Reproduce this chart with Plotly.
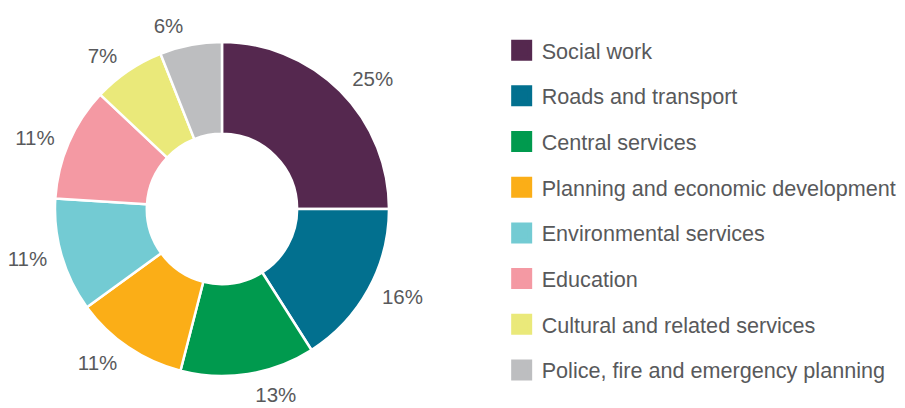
import plotly.graph_objects as go

categories = [
    "Social work",
    "Roads and transport",
    "Central services",
    "Planning and economic development",
    "Environmental services",
    "Education",
    "Cultural and related services",
    "Police, fire and emergency planning",
]
shares = [25, 16, 13, 11, 11, 11, 7, 6]
colors = ["#55284F", "#02708F", "#009A4E", "#FBAE17", "#73CBD3", "#F499A3", "#EAE97A", "#BDBEC0"]

FONT = "Liberation Sans, Arial, sans-serif"
TEXT = "#58595B"

fig = go.Figure()
# transparent, slightly larger copy that carries the percentage labels further out
fig.add_trace(go.Pie(
    labels=categories,
    values=shares,
    sort=False,
    direction="clockwise",
    rotation=0,
    marker=dict(colors=["rgba(0,0,0,0)"] * len(shares), line=dict(width=0)),
    texttemplate="%{value}%",
    textposition="outside",
    textfont=dict(family=FONT, size=20.5, color=TEXT),
    showlegend=False,
    hoverinfo="skip",
    domain=dict(x=[0.042, 0.4309], y=[0.076, 0.9387]),
))
# visible donut
fig.add_trace(go.Pie(
    labels=categories,
    values=shares,
    sort=False,
    direction="clockwise",
    rotation=0,
    hole=0.45,
    marker=dict(colors=colors, line=dict(color="white", width=2.5)),
    textinfo="none",
    showlegend=False,
    domain=dict(x=[0.0519, 0.4210], y=[0.098, 0.9167]),
))

for cat, col in zip(categories, colors):
    fig.add_trace(go.Scatter(
        x=[None], y=[None], mode="markers", name=cat, legendgroup=cat,
        marker=dict(symbol="square", size=16, color=col, line=dict(color=col, width=5)),
        showlegend=True,
    ))

fig.update_layout(
    width=905, height=408,
    margin=dict(l=0, r=0, t=0, b=0, autoexpand=False),
    paper_bgcolor="white", plot_bgcolor="white",
    xaxis=dict(visible=False), yaxis=dict(visible=False),
    legend=dict(
        x=0.5455, xanchor="left", y=0.947, yanchor="top",
        font=dict(family=FONT, size=21.6, color=TEXT),
        tracegroupgap=14.6,
        bgcolor="rgba(0,0,0,0)",
    ),
)

fig.write_html("out.html")
